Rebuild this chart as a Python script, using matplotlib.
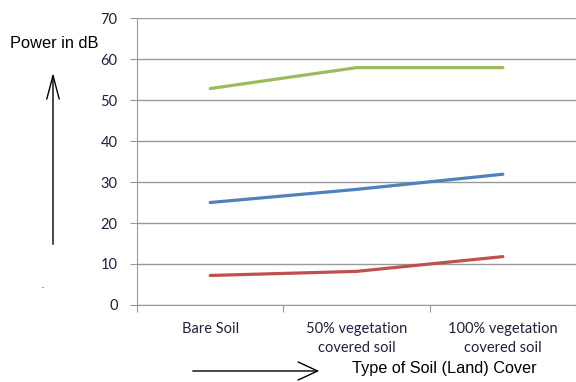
import matplotlib
matplotlib.use("Agg")
import matplotlib.pyplot as plt
from matplotlib.patches import FancyArrowPatch

plt.rcParams["font.family"] = ["Lato", "DejaVu Sans"]

categories = ["Bare Soil", "50% vegetation\ncovered soil", "100% vegetation\ncovered soil"]
green_db = [52.8, 57.9, 57.9]
blue_db = [25.0, 28.2, 31.9]
red_db = [7.2, 8.2, 11.8]
y_ticks = [0, 10, 20, 30, 40, 50, 60, 70]

fig = plt.figure(figsize=(5.76, 3.82), dpi=100)
ax = fig.add_axes([0.238, 0.2016, 0.762, 0.7512])

x = range(len(categories))
ax.plot(x, green_db, color="#9BBB59", lw=2.3, solid_capstyle="round")
ax.plot(x, blue_db, color="#4F81BD", lw=2.3, solid_capstyle="round")
ax.plot(x, red_db, color="#C0504D", lw=2.3, solid_capstyle="round")

ax.set_xlim(-0.5, len(categories) - 0.5)
ax.set_ylim(0, 70)
ax.set_yticks(y_ticks)
ax.yaxis.grid(True, color="#9a9a9a", lw=1)
ax.set_axisbelow(True)

# category labels sit between the boundary ticks
ax.set_xticks([i + 0.5 for i in range(-1, len(categories))])
ax.set_xticklabels([])
ax.set_xticks(list(x), minor=True)
ax.set_xticklabels(categories, minor=True, fontsize=10.5, color="#202040",
                   linespacing=1.45)
ax.tick_params(axis="x", which="minor", length=0, pad=12)
ax.tick_params(axis="x", which="major", length=5, color="#9a9a9a")
ax.tick_params(axis="y", length=5, color="#9a9a9a", labelsize=10.5,
               labelcolor="#202040", pad=9)

for side in ("top", "right"):
    ax.spines[side].set_visible(False)
ax.spines["left"].set_color("#9a9a9a")
ax.spines["bottom"].set_color("#9a9a9a")

# annotations outside the plot area
fig.text(10 / 576, 1 - 44 / 382, "Power in dB", fontsize=11.8, va="center",
         family=["Liberation Sans"])
fig.patches.append(FancyArrowPatch(
    (53 / 576, 1 - 247 / 382), (53 / 576, 1 - 70 / 382),
    transform=fig.transFigure, arrowstyle="->,head_length=17,head_width=4.5",
    color="black", lw=1))
fig.text(43 / 576, 1 - 288 / 382, ".", fontsize=6, ha="center")
fig.patches.append(FancyArrowPatch(
    (190 / 576, 1 - 371 / 382), (322 / 576, 1 - 371 / 382),
    transform=fig.transFigure, arrowstyle="->,head_length=14,head_width=6.5",
    color="black", lw=1))
fig.text(352 / 576, 1 - 369 / 382, "Type of Soil (Land) Cover", fontsize=11.7,
         va="center", family=["Liberation Sans"])

fig.savefig("out.png", dpi=100)
